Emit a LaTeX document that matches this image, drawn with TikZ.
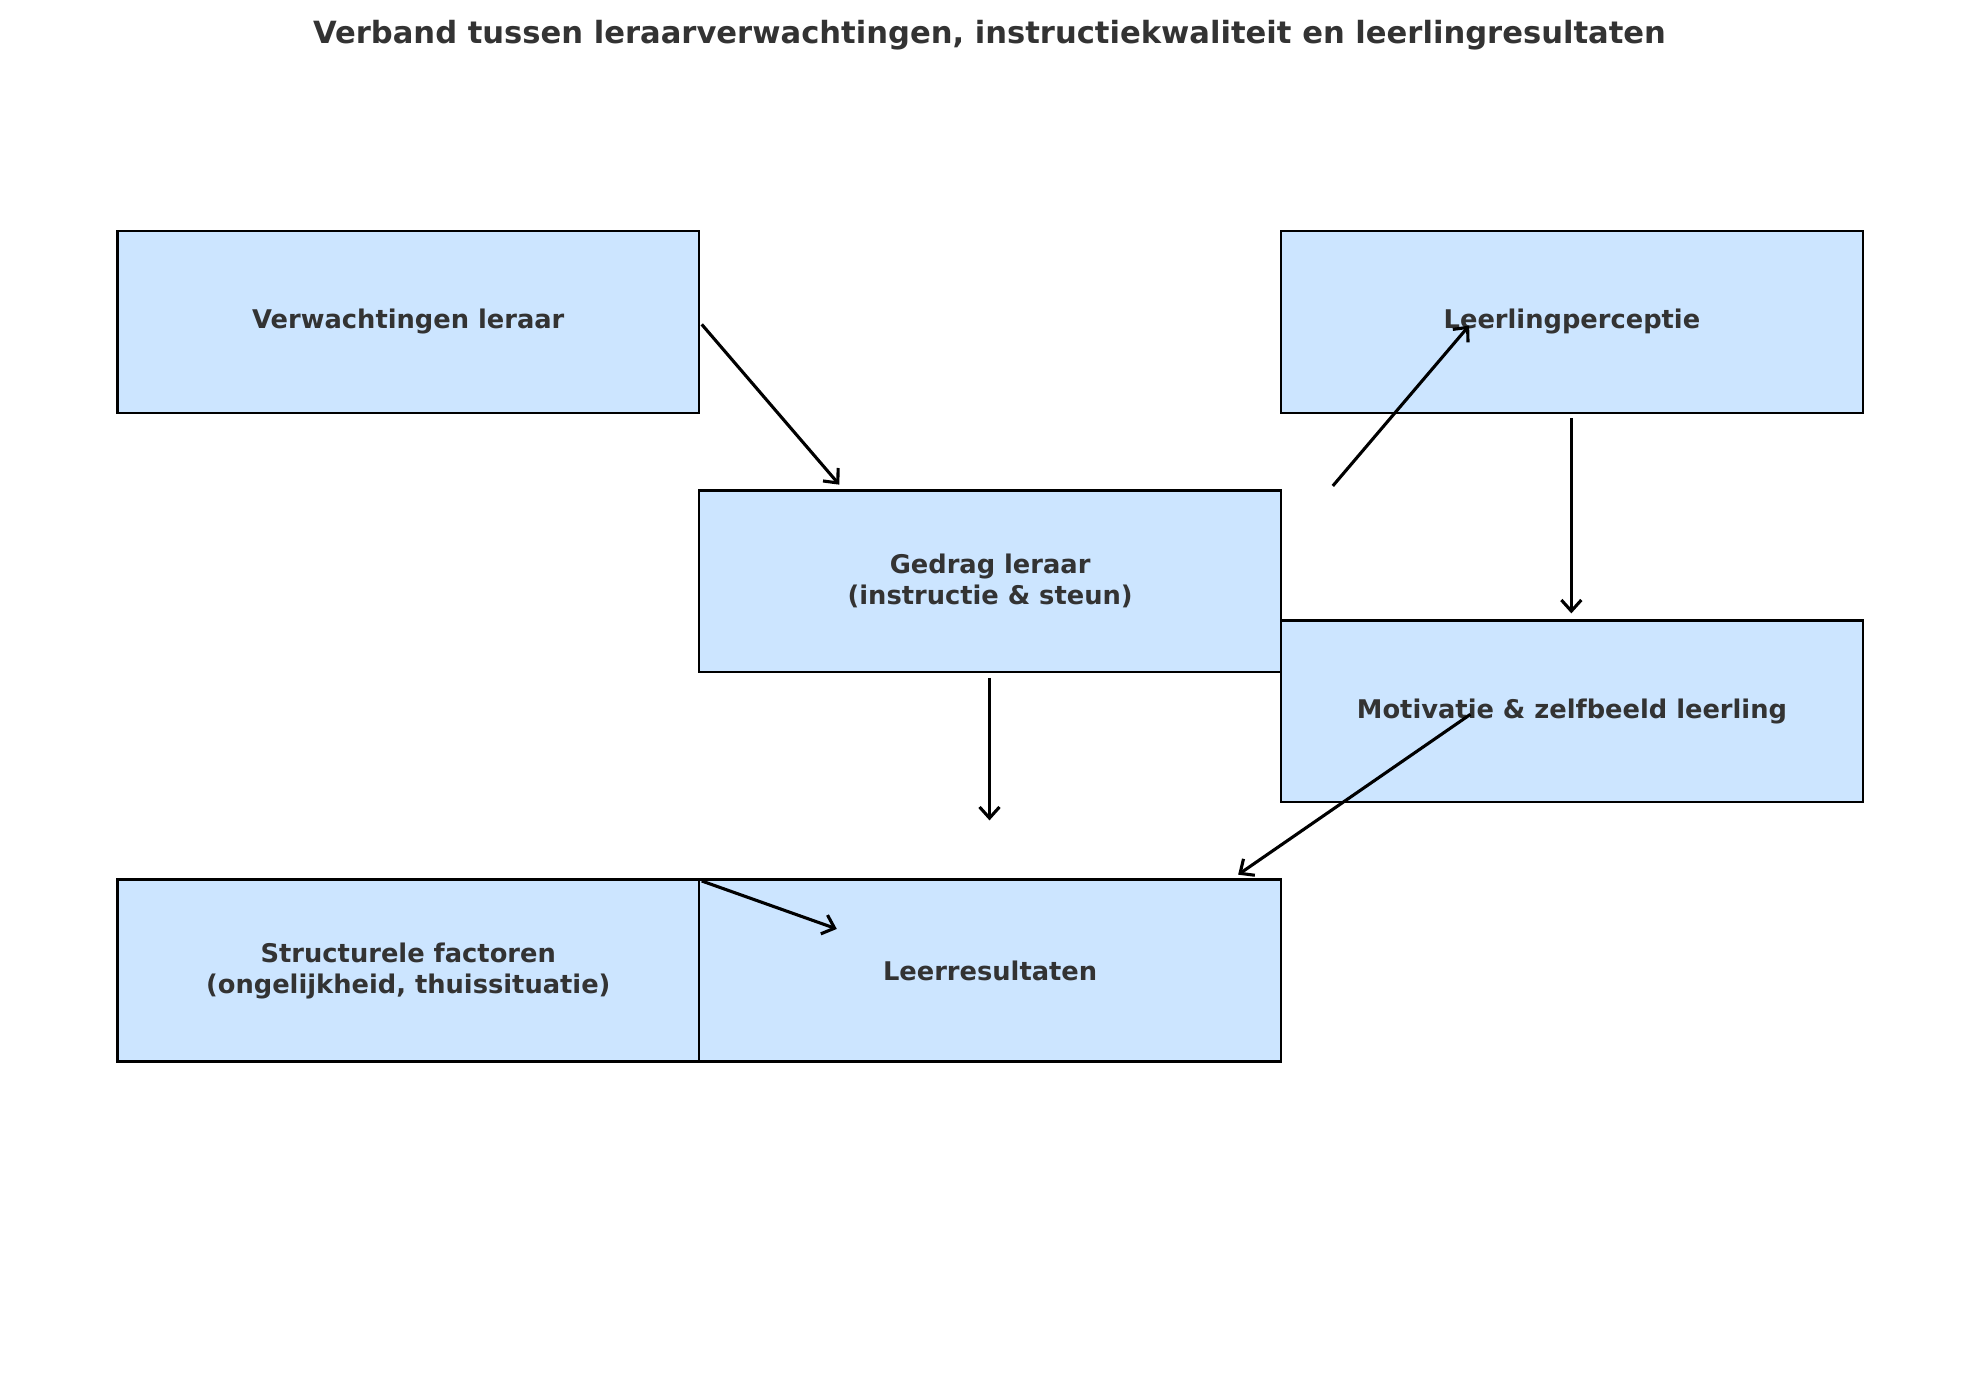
\documentclass[tikz,border=0pt]{standalone}
\usepackage{fontspec}
\setmainfont{DejaVu Sans}
\definecolor{boxfill}{HTML}{CCE5FF}
\definecolor{txt}{HTML}{333333}
\begin{document}
\begin{tikzpicture}[x=0.02cm,y=-0.02cm,
  box/.style={draw=black,fill=boxfill,line width=1.1pt,minimum width=461*0.02cm,minimum height=144*0.02cm,inner sep=0pt,align=center,font=\bfseries\fontsize{11.6}{14}\selectfont,text=txt},
  arr/.style={->,line width=1.4pt,>={Straight Barb[length=5pt,width=9pt]}}]
\usetikzlibrary{arrows.meta}
\useasboundingbox (0,0) rectangle (1568,1093);
\node[font=\bfseries\fontsize{13.8}{16}\selectfont,text=txt] (title) at (784,28) {Verband tussen leraarverwachtingen, instructiekwaliteit en leerlingresultaten};
\node[box] (verw) at (323.5,255) {Verwachtingen leraar};
\node[box] (perc) at (1245.5,255) {Leerlingperceptie};
\node[box] (gedrag) at (784.5,460.5) {Gedrag leraar\\(instructie \& steun)};
\node[box] (motiv) at (1245.5,563.5) {Motivatie \& zelfbeeld leerling};
\node[box] (struct) at (323.5,769) {Structurele factoren\\(ongelijkheid, thuissituatie)};
\node[box] (leer) at (784.5,769) {Leerresultaten};
\coordinate (a1) at (556,257); \coordinate (b1) at (665,384);
\coordinate (a2) at (1056,385); \coordinate (b2) at (1164,258);
\coordinate (a3) at (1245,331); \coordinate (b3) at (1245,486);
\coordinate (a4) at (784,537); \coordinate (b4) at (784,650);
\coordinate (a5) at (1165,566); \coordinate (b5) at (981,693);
\coordinate (a6) at (556,698); \coordinate (b6) at (663,736);
\draw[arr] (a1) -- (b1);
\draw[arr] (a2) -- (b2);
\draw[arr] (a3) -- (b3);
\draw[arr] (a4) -- (b4);
\draw[arr] (a5) -- (b5);
\draw[arr] (a6) -- (b6);
\end{tikzpicture}
\end{document}
